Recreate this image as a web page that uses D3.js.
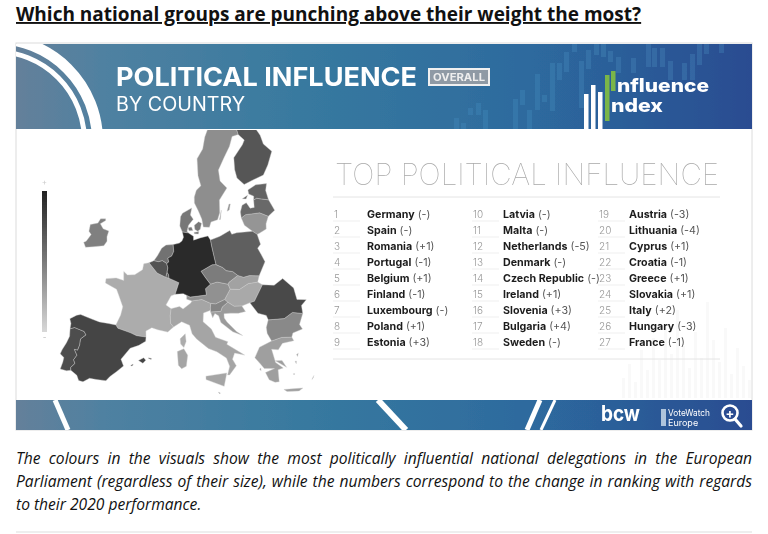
<!DOCTYPE html>
<html>
<head>
<meta charset="utf-8">
<script src="https://cdn.jsdelivr.net/npm/d3@7"></script>
<style>
  html, body { margin: 0; padding: 0; background: #fff; }
  svg { display: block; }
</style>
</head>
<body>
<svg id="chart" width="768" height="534"></svg>
<script>
// Ranking, in rank order
const countries = ["Germany", "Spain", "Romania", "Portugal", "Belgium", "Finland", "Luxembourg", "Poland", "Estonia",
  "Latvia", "Malta", "Netherlands", "Denmark", "Czech Republic", "Ireland", "Slovenia", "Bulgaria", "Sweden",
  "Austria", "Lithuania", "Cyprus", "Croatia", "Greece", "Slovakia", "Italy", "Hungary", "France"];
const rankChanges = [0, 0, 1, -1, 1, -1, 0, 1, 3, 0, 0, -5, 0, 0, 1, 3, 4, 0, -3, -4, 1, -1, 1, 1, 2, -3, -1];

const paragraphLines = [
  "The colours in the visuals show the most politically influential national delegations in the European",
  "Parliament (regardless of their size), while the numbers correspond to the change in ranking with regards",
  "to their 2020 performance."
];

// Country outlines as [lon, lat] rings, rough hand-read borders
const germanyShape = [[[6.9,53.4],[8.1,53.6],[8.6,53.85],[8.9,54.3],[8.65,54.9],[9.9,54.8],[10.9,54.4],[10.9,53.95],[12.2,54.2],[13.8,54.4],[14.25,53.9],[14.4,53.2],[14.7,52.1],[15,51],[14.3,51],[12.2,50.3],[13,49.5],[13.8,48.75],[12.9,48.25],[13,47.5],[10.2,47.3],[9,47.7],[7.6,47.6],[8.2,48.97],[6.4,49.45],[6.3,49.85],[6,50.15],[6.1,50.65],[5.85,51.15],[6.2,51.35],[6,51.8],[6.7,52.05],[7.05,52.6]]];
const spainShape = [[[-8.85,41.87],[-8.9,42.5],[-9.25,43],[-8.3,43.6],[-7.7,43.78],[-6,43.57],[-4.5,43.4],[-3,43.4],[-1.8,43.38],[-1.4,43.03],[0.7,42.7],[1.7,42.45],[3.2,42.4],[3.2,41.9],[2.2,41.35],[0.9,40.9],[-0.3,39.5],[0.2,38.75],[-0.7,38],[-1.6,37.3],[-2.1,36.75],[-3.5,36.7],[-4.5,36.7],[-5.35,36.15],[-6,36.2],[-6.4,36.75],[-7.4,37.18],[-7.5,37.5],[-7,38.05],[-7.3,38.45],[-6.95,39.05],[-7.5,39.65],[-7,39.65],[-6.85,40.3],[-6.9,41],[-6.2,41.6],[-6.6,41.95],[-8.2,42.14]],
  [[2.35,39.58],[3.1,39.95],[3.45,39.7],[3.05,39.3]], [[3.85,40],[4.3,39.95],[4.25,39.82],[3.85,39.93]], [[1.25,38.9],[1.6,39.1],[1.6,38.95],[1.4,38.85]]];
const romaniaShape = [[[20.3,46.15],[21.1,46.25],[22.9,48],[24.9,47.7],[26.6,48.25],[28.1,46.9],[28.2,45.5],[29.7,45.2],[28.7,44.7],[28.6,43.75],[27,44.15],[25.5,43.65],[22.9,43.85],[22.7,44.4],[21.4,44.8]]];
const portugalShape = [[[-8.85,41.87],[-8.2,42.14],[-6.6,41.95],[-6.2,41.6],[-6.9,41],[-6.85,40.3],[-7,39.65],[-7.5,39.65],[-6.95,39.05],[-7.3,38.45],[-7,38.05],[-7.5,37.5],[-7.4,37.18],[-8,37],[-8.95,37.03],[-8.8,37.9],[-8.8,38.45],[-9.45,38.75],[-9.3,39.3],[-8.9,40.2],[-8.65,41]]];
const belgiumShape = [[[2.55,51.08],[3.4,51.37],[4.3,51.3],[5,51.45],[5.85,51.15],[6.1,50.65],[6,50.15],[5.8,49.55],[4.2,49.97]]];
const finlandShape = [[[24,65.8],[25.3,65],[24.5,64.5],[21.6,63.2],[21.3,61.8],[21.5,60.8],[22.9,59.9],[25,60.2],[27.8,60.5],[29.5,61.5],[31.5,62.9],[30,64],[29.9,65.1],[29.2,66],[30,67.7],[28.6,68.9],[29,69.9],[27,70],[25.8,69],[23.5,67.9],[23.7,67.2]]];
const luxembourgShape = [[[6,50.15],[6.3,49.85],[6.4,49.45],[5.8,49.55]]];
const polandShape = [[[14.25,53.9],[16.2,54.25],[18.3,54.83],[18.6,54.35],[19.6,54.45],[22.8,54.35],[23.6,53.9],[23.9,52.7],[23.2,52.3],[23.65,51.5],[24.1,50.6],[22.6,49.1],[20.9,49.3],[19.8,49.2],[18.8,49.5],[18,50],[16.8,50.2],[16.2,50.6],[15,51],[14.7,52.1],[14.4,53.2]]];
const estoniaShape = [[[23.5,59.2],[25.5,59.6],[28,59.45],[27.4,58.7],[27.5,57.55],[26,57.85],[25,58.05],[24.3,57.9],[24.5,58.35],[23.5,58.7]], [[21.9,58.3],[23.2,58.6],[22.7,58.2]]];
const latviaShape = [[[21,56.8],[21.6,57.55],[22.6,57.75],[23.2,57.05],[24.1,57.05],[24.3,57.9],[25,58.05],[26,57.85],[27.5,57.55],[28.2,56.2],[26.6,55.7],[25,56.3],[22,56.4],[21,56.1]]];
const maltaShape = [[[14.2,36.05],[14.5,35.95],[14.4,35.85]]];
const netherlandsShape = [[[3.4,51.37],[4,51.98],[4.7,52.9],[5.5,53.3],[6.9,53.4],[7.05,52.6],[6.7,52.05],[6,51.8],[6.2,51.35],[5.85,51.15],[5,51.45],[4.3,51.3]]];
const denmarkShape = [[[8.65,54.9],[8.1,55.6],[8.2,56.7],[8.6,57.1],[10.6,57.73],[10.3,56.9],[10.9,56.4],[9.9,55.7],[9.6,55],[9.9,54.8]], [[11.1,55.7],[12,56.1],[12.6,55.9],[12.3,55.2],[11.8,55],[11.2,55.2]], [[9.8,55.4],[10.5,55.5],[10.8,55.1],[10,55.05]], [[11,54.85],[12,54.95],[11.9,54.65],[11.1,54.7]]];
const czechShape = [[[12.2,50.3],[14.3,51],[15,51],[16.2,50.6],[16.8,50.2],[18,50],[18.8,49.5],[17.1,48.8],[16.9,48.6],[15,48.95],[13.8,48.75],[13,49.5]]];
const irelandShape = [[[-6.4,52.2],[-6,52.8],[-6.2,53.3],[-6.1,54],[-7.3,54.1],[-8.1,54.6],[-7.2,55.1],[-7.3,55.3],[-8.3,55.15],[-8.6,54.6],[-10,54.2],[-9.9,53.4],[-9.3,53.1],[-9.9,52.2],[-10.3,52],[-9.7,51.5],[-8.3,51.8]]];
const sloveniaShape = [[[13.7,46.5],[14.5,46.4],[16.1,46.85],[16.6,46.5],[15.6,46],[15.3,45.5],[13.6,45.5],[13.6,46]]];
const bulgariaShape = [[[22.9,43.85],[25.5,43.65],[27,44.15],[28.6,43.75],[27.7,42.6],[28,42],[26.4,41.8],[26.1,41.35],[24.5,41.55],[22.9,41.35],[22.4,42.3],[22.4,43]]];
const swedenShape = [[[11.2,59],[11.2,58.3],[12,57.4],[12.7,56.4],[12.95,55.45],[14.2,55.4],[14.6,56],[16,56.2],[16.6,57],[16.8,58.5],[18.8,59.8],[17.4,60.7],[17.3,62],[19,63.3],[21,64.6],[22.2,65.7],[24,65.8],[23.7,67.2],[23.5,67.9],[20.5,69.05],[18.2,68.5],[16.2,67.5],[14.5,66],[13.7,64.6],[12.1,63.5],[12.2,61.5],[12.8,60.3],[11.7,59.8]], [[18.2,57.1],[18.8,57.9],[19.1,57.9],[18.7,57.2]], [[16.4,56.2],[17,57.3],[16.6,56.2]]];
const austriaShape = [[[9.6,47.5],[10.2,47.3],[13,47.5],[12.9,48.25],[13.8,48.75],[15,48.95],[16.9,48.6],[17.2,48],[16.1,46.85],[14.5,46.4],[13.7,46.5],[12.2,47],[10.5,46.85],[9.6,47.05]]];
const lithuaniaShape = [[[21,56.1],[22,56.4],[25,56.3],[26.6,55.7],[25.8,54.9],[25.6,54.3],[24,53.95],[23.6,53.9],[22.8,54.35],[21.4,55.2]]];
const cyprusShape = [];
const croatiaShape = [[[13.6,45.5],[15.3,45.5],[15.6,46],[16.6,46.5],[17.6,45.95],[18.9,45.9],[19.4,45.2],[18.2,45.1],[16.9,45.2],[15.8,45.2],[15.8,44.7],[16.2,44.2],[17.6,43],[18.5,42.45],[17,43],[15.2,44.2],[14.9,45],[14.3,45.3],[13.9,44.8]]];
const greeceShape = [[[20,39.7],[20.9,40.85],[22.9,41.35],[24.5,41.55],[26.1,41.35],[26.3,40.9],[24.5,40.85],[23.7,40.2],[22.7,40.4],[22.9,39.3],[23,38.8],[24,38],[23.2,37.9],[23.1,36.5],[22.5,36.5],[21.7,36.9],[21.3,37.8],[22.7,38.1],[21.2,38.3],[20.7,38.9]],
  [[23.6,35.5],[24.8,35.4],[26.3,35.25],[25.7,35],[24,35.2]], [[27.8,36],[28.2,36.4],[28,36.1]], [[26.3,39.25],[26.6,39.35],[26.4,39]], [[23,39],[24.5,38],[24,38.9]], [[25.9,38.5],[26.1,38.5],[26,38.2]], [[20.5,38.3],[20.7,38.4],[20.7,38.1]], [[25.3,37.1],[25.5,37.1],[25.4,36.95]]];
const slovakiaShape = [[[16.9,48.6],[17.1,48.8],[18.8,49.5],[19.8,49.2],[20.9,49.3],[22.6,49.1],[22.15,48.4],[20.5,48.4],[18.8,47.85],[17.2,48]]];
const italyShape = [[[6.9,45.1],[7,45.9],[8.4,46.2],[9,45.9],[10.3,46.6],[10.5,46.85],[12.2,47],[13.7,46.5],[13.6,46],[13.6,45.7],[12.4,45.4],[12.3,44.4],[13.6,43.5],[14.2,42.5],[16.1,41.9],[15.9,41.6],[18.5,40.15],[17,40.5],[16.6,39.8],[17.1,39],[16,38],[15.7,38],[16.1,39],[15.7,40],[14.3,40.8],[13,41.25],[11.2,42.4],[10.5,43],[10.1,44],[8.8,44.4],[7.5,43.78],[7,44.2]],
  [[12.5,38],[15.6,38.25],[15.1,36.7],[12.5,37.6]], [[8.2,40.9],[9.2,41.25],[9.8,40.5],[9.6,39.2],[8.9,38.9],[8.4,39.3]]];
const hungaryShape = [[[16.1,46.85],[17.2,48],[18.8,47.85],[20.5,48.4],[22.15,48.4],[22.9,48],[21.1,46.25],[20.3,46.15],[18.9,45.9],[17.6,45.95],[16.6,46.5]]];
const franceShape = [[[-1.8,43.38],[-1.25,44.6],[-1.1,45.6],[-2.1,46.9],[-2.6,47.5],[-4.7,48],[-4.75,48.5],[-3,48.8],[-1.6,48.65],[-1.85,49.7],[-1.1,49.35],[0.2,49.5],[1.5,50.2],[1.6,50.9],[2.55,51.08],[4.2,49.97],[5.8,49.55],[6.4,49.45],[8.2,48.97],[7.6,47.6],[6.9,47.4],[6.1,46.3],[7,45.9],[6.9,45.1],[7,44.2],[7.5,43.78],[6.6,43.15],[5,43.35],[4,43.55],[3.1,43.1],[3.2,42.4],[1.7,42.45],[0.7,42.7],[-1.4,43.03]],
  [[8.6,42.4],[9.4,43],[9.55,42.1],[9.2,41.4],[8.7,41.8]]];

// same order as countries
const countryShapes = [germanyShape, spainShape, romaniaShape, portugalShape, belgiumShape, finlandShape, luxembourgShape, polandShape, estoniaShape,
  latviaShape, maltaShape, netherlandsShape, denmarkShape, czechShape, irelandShape, sloveniaShape, bulgariaShape, swedenShape,
  austriaShape, lithuaniaShape, cyprusShape, croatiaShape, greeceShape, slovakiaShape, italyShape, hungaryShape, franceShape];

// Banner decoration candles: x, top, bottom
const candleX = [454,461,468,476,483,513,520,527,535,542,550,557,564,572,579,586,594,601,608,616,631,646,652,660,668,682,690,697,704,719];
const candleTop = [118,123,108,103,110,99,90,110,74,95,63,63,52,44,61,50,44,44,51,57,58,44,48,48,61,63,54,44,44,44];
const candleBottom = [129,129,115,115,129,129,105,129,110,102,111,80,72,52,108,69,55,57,62,73,73,67,67,67,80,80,80,65,54,53];

const FONT = "Inter, 'Open Sans', sans-serif";
const svg = d3.select("#chart");
const defs = svg.append("defs");

// Heading above the card
svg.append("text")
  .attr("x", 16).attr("y", 21)
  .attr("font-family", "'Open Sans', sans-serif")
  .attr("font-size", 19).attr("font-weight", 700)
  .attr("text-decoration", "underline")
  .attr("fill", "#111")
  .text("Which national groups are punching above their weight the most?");

const bandGradient = defs.append("linearGradient").attr("id", "band");
[[0, "#64809a"], [0.12, "#4f81a1"], [0.4, "#37799f"], [0.7, "#2d6a9e"], [1, "#2a4c91"]].forEach(([o, c]) =>
  bandGradient.append("stop").attr("offset", o).attr("stop-color", c));

const legendGradient = defs.append("linearGradient").attr("id", "legend").attr("x2", 0).attr("y2", 1);
[[0, "#222"], [0.5, "#7a7a7a"], [1, "#d8d8d8"]].forEach(([o, c]) =>
  legendGradient.append("stop").attr("offset", o).attr("stop-color", c));

defs.append("filter").attr("id", "soft").append("feGaussianBlur").attr("stdDeviation", 0.3);
defs.append("clipPath").attr("id", "topBand").append("rect").attr("x", 16).attr("y", 44).attr("width", 736).attr("height", 85);
defs.append("clipPath").attr("id", "bottomBand").append("rect").attr("x", 16).attr("y", 400).attr("width", 736).attr("height", 30);
defs.append("clipPath").attr("id", "mapArea").append("rect").attr("x", 16).attr("y", 130).attr("width", 736).attr("height", 270);

const card = svg.append("g").attr("filter", "url(#soft)");

card.append("rect")
  .attr("x", 16).attr("y", 43).attr("width", 736).attr("height", 387)
  .attr("fill", "#fff").attr("stroke", "#dcdcdc");

// Faint candles behind the table
const faint = card.append("g").attr("fill", "#f9f9f9");
d3.range(0, 22).forEach(i => {
  const h = [20, 34, 16, 48, 28, 60, 38, 74, 44, 88, 52, 30, 66, 40, 96, 58, 36, 70, 24, 50, 32, 18][i];
  faint.append("rect").attr("x", 622 + i * 6).attr("y", 398 - h).attr("width", 3).attr("height", h);
});

// Top banner
card.append("rect")
  .attr("x", 16).attr("y", 44).attr("width", 736).attr("height", 85)
  .attr("fill", "url(#band)");

const topBand = card.append("g").attr("clip-path", "url(#topBand)");
topBand.append("g").selectAll("rect")
  .data(candleX)
  .join("rect")
  .attr("x", d => d)
  .attr("y", (d, i) => candleTop[i])
  .attr("width", 5)
  .attr("height", (d, i) => candleBottom[i] - candleTop[i])
  .attr("fill", "#4a93c2").attr("opacity", 0.3);

[[102.5, 11], [89.5, 5]].forEach(([r, w]) =>
  topBand.append("circle").attr("cx", -5).attr("cy", 141).attr("r", r)
    .attr("fill", "none").attr("stroke", "#fff").attr("stroke-width", w));

card.append("text").attr("x", 116).attr("y", 86)
  .attr("font-family", FONT).attr("font-size", 26).attr("font-weight", 700).attr("fill", "#fff")
  .attr("textLength", 301).attr("lengthAdjust", "spacingAndGlyphs")
  .text("POLITICAL INFLUENCE");
card.append("text").attr("x", 116).attr("y", 111)
  .attr("font-family", FONT).attr("font-size", 19.5).attr("font-weight", 400).attr("fill", "#fff")
  .attr("textLength", 129).attr("lengthAdjust", "spacingAndGlyphs")
  .text("BY COUNTRY");

card.append("rect").attr("x", 429).attr("y", 69).attr("width", 60).attr("height", 16)
  .attr("fill", "#8f9aa5").attr("stroke", "#f0f0f0").attr("stroke-width", 2);
card.append("text").attr("x", 459).attr("y", 81).attr("text-anchor", "middle")
  .attr("font-family", FONT).attr("font-size", 10).attr("font-weight", 700).attr("fill", "#eee")
  .attr("textLength", 52).attr("lengthAdjust", "spacingAndGlyphs")
  .text("OVERALL");

// Influence Index logo
[[584, 94], [591, 85], [598, 92]].forEach(([x, y]) =>
  card.append("rect").attr("x", x).attr("y", y).attr("width", 4.5).attr("height", 129 - y).attr("fill", "#fff"));
card.append("rect").attr("x", 605).attr("y", 75).attr("width", 4.5).attr("height", 46).attr("fill", "#7ab648");
card.append("rect").attr("x", 611).attr("y", 71).attr("width", 4.5).attr("height", 20).attr("fill", "#7ab648");
card.append("text").attr("x", 617).attr("y", 92)
  .attr("font-family", FONT).attr("font-size", 18.5).attr("font-weight", 800).attr("fill", "#fff")
  .attr("textLength", 92).attr("lengthAdjust", "spacingAndGlyphs").text("nfluence");
card.append("text").attr("x", 611).attr("y", 112)
  .attr("font-family", FONT).attr("font-size", 18.5).attr("font-weight", 800).attr("fill", "#fff")
  .attr("textLength", 52).attr("lengthAdjust", "spacingAndGlyphs").text("ndex");

// Map
const projection = d3.geoAzimuthalEqualArea()
  .rotate([-10, -50])
  .scale(490)
  .translate([189, 274]);

const grey = d3.scaleLinear().domain([1, 2, 9, 18, 27]).range(["#2b2b2b", "#444", "#646464", "#8e8e8e", "#acacac"]);
const outline = d3.line().curve(d3.curveLinearClosed);

// draw the low ranks last so dark countries sit on top
const mapRows = countries.map((name, i) => ({ name, rank: i + 1, rings: countryShapes[i] })).reverse();

card.append("g").attr("clip-path", "url(#mapArea)")
  .selectAll("path")
  .data(mapRows)
  .join("path")
  .attr("d", d => d.rings.map(r => outline(r.map(p => projection(p)))).join(""))
  .attr("fill", d => grey(d.rank))
  .attr("stroke", "#cfcfcf")
  .attr("stroke-width", 0.4);

// Legend ramp
card.append("rect").attr("x", 42).attr("y", 191).attr("width", 5).attr("height", 141).attr("fill", "url(#legend)");
card.append("text").attr("x", 44.5).attr("y", 185).attr("text-anchor", "middle")
  .attr("font-family", FONT).attr("font-size", 8).attr("fill", "#ccc").text("+");
card.append("text").attr("x", 44.5).attr("y", 340).attr("text-anchor", "middle")
  .attr("font-family", FONT).attr("font-size", 8).attr("fill", "#bbb").text("-");

// Table
card.append("text").attr("x", 335).attr("y", 185)
  .attr("font-family", FONT).attr("font-size", 30).attr("font-weight", 100).attr("fill", "#a8a8a8")
  .attr("textLength", 384).attr("lengthAdjust", "spacingAndGlyphs")
  .text("TOP POLITICAL INFLUENCE");

[197, 359].forEach(y =>
  card.append("line").attr("x1", 333).attr("x2", 720).attr("y1", y).attr("y2", y)
    .attr("stroke", "#e4e4e4"));

const numberX = [334, 473, 599];
const nameX = [367, 503, 629];
const rowY = d3.scalePoint().domain(d3.range(9)).range([214, 342]);
const changeLabel = d => d === 0 ? "(-)" : `(${d > 0 ? "+" : ""}${d})`;

const tableRows = card.append("g").selectAll("g")
  .data(countries.map((name, i) => ({
    name, rank: i + 1, change: rankChanges[i], col: Math.floor(i / 9), row: i % 9
  })))
  .join("g")
  .attr("transform", d => `translate(0,${rowY(d.row)})`);

tableRows.append("line")
  .attr("x1", d => numberX[d.col] - 1).attr("x2", d => numberX[d.col] + 26)
  .attr("y1", 7).attr("y2", 7)
  .attr("stroke", "#efefef");

tableRows.append("text")
  .attr("x", d => numberX[d.col]).attr("y", 4)
  .attr("font-family", FONT).attr("font-size", 10).attr("font-weight", 300).attr("fill", "#999")
  .text(d => d.rank);

const nameText = tableRows.append("text")
  .attr("x", d => nameX[d.col]).attr("y", 4)
  .attr("font-family", FONT).attr("font-size", 10.7);
nameText.append("tspan").attr("font-weight", 700).attr("fill", "#1c1c1c").text(d => d.name);
nameText.append("tspan").attr("font-weight", 400).attr("fill", "#555").text(d => " " + changeLabel(d.change));

// Bottom band
card.append("rect")
  .attr("x", 16).attr("y", 400).attr("width", 736).attr("height", 30)
  .attr("fill", "url(#band)");
const bottomBand = card.append("g").attr("clip-path", "url(#bottomBand)");
[[55, 68, 5], [378, 406, 6], [540, 527, 5], [555, 541, 3]].forEach(([x1, x2, w]) =>
  bottomBand.append("line").attr("x1", x1).attr("x2", x2).attr("y1", 400).attr("y2", 430)
    .attr("stroke", "#fff").attr("stroke-width", w));

card.append("text").attr("x", 601).attr("y", 421)
  .attr("font-family", FONT).attr("font-size", 21).attr("font-weight", 700).attr("fill", "#fff")
  .attr("textLength", 39).attr("lengthAdjust", "spacingAndGlyphs").text("bcw");
card.append("text").attr("x", 668).attr("y", 416)
  .attr("font-family", FONT).attr("font-size", 9).attr("fill", "#fff")
  .attr("textLength", 42).attr("lengthAdjust", "spacingAndGlyphs").text("VoteWatch");
card.append("text").attr("x", 668).attr("y", 426)
  .attr("font-family", FONT).attr("font-size", 9).attr("fill", "#fff").text("Europe");
card.append("rect").attr("x", 661).attr("y", 409).attr("width", 5).attr("height", 17).attr("fill", "#cfe0ee").attr("opacity", 0.8);

// Zoom icon
card.append("circle").attr("cx", 730).attr("cy", 413).attr("r", 7.5)
  .attr("fill", "#2a4c91").attr("stroke", "#fff").attr("stroke-width", 2.6);
card.append("line").attr("x1", 735).attr("y1", 419).attr("x2", 741).attr("y2", 426)
  .attr("stroke", "#fff").attr("stroke-width", 3.2).attr("stroke-linecap", "round");
card.append("text").attr("x", 730).attr("y", 417.5).attr("text-anchor", "middle")
  .attr("font-family", FONT).attr("font-size", 13).attr("font-weight", 700).attr("fill", "#fff").text("+");

// Caption, stretched word by word like justified text
const captionLines = svg.append("g").selectAll("text")
  .data(paragraphLines)
  .join("text")
  .attr("x", 16)
  .attr("y", (d, i) => 464 + i * 23)
  .attr("font-family", "'Open Sans', sans-serif")
  .attr("font-size", 15.6)
  .attr("font-style", "italic")
  .attr("fill", "#111")
  .text(d => d);

captionLines.each(function (d, i) {
  if (i === paragraphLines.length - 1) return;
  const gaps = d.split(" ").length - 1;
  d3.select(this).attr("word-spacing", (736 - this.getComputedTextLength()) / gaps);
});

svg.append("line").attr("x1", 16).attr("x2", 752).attr("y1", 532).attr("y2", 532).attr("stroke", "#ddd");
</script>
</body>
</html>
